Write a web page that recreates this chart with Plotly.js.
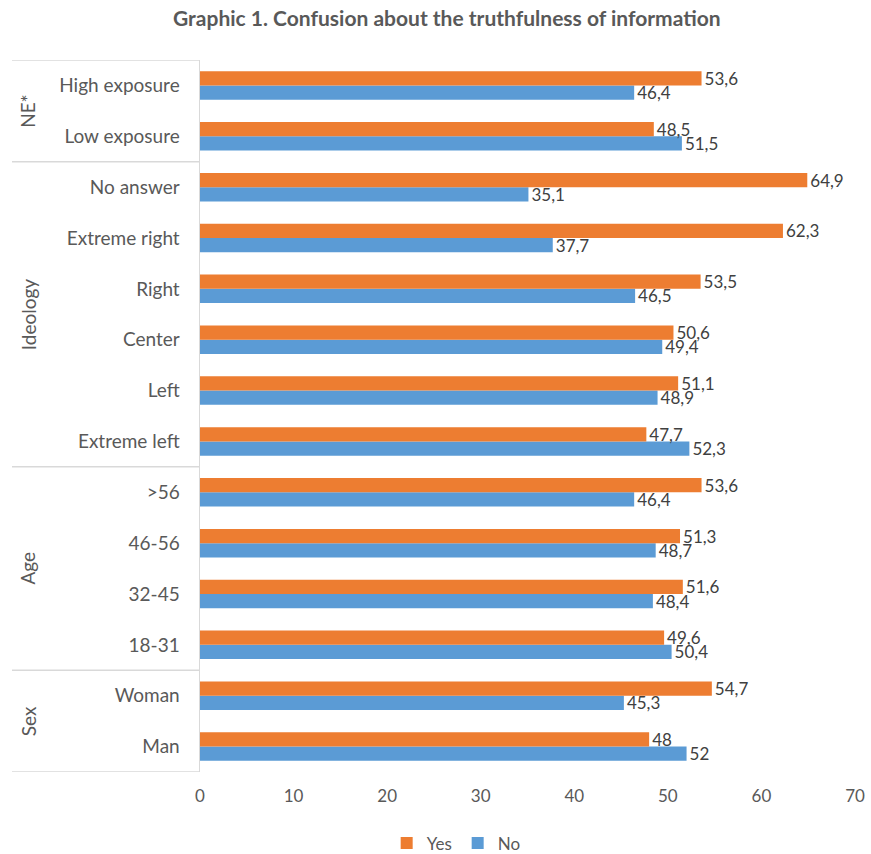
<!DOCTYPE html>
<html>
<head>
<meta charset="utf-8">
<script src="https://cdn.plot.ly/plotly-3.0.1.min.js"></script>
<style>html,body{margin:0;padding:0;background:#fff;}#chart{width:871px;height:854px;}</style>
</head>
<body>
<div id="chart"></div>
<script>
// Categories from bottom to top
var categories = ["Man", "Woman", "18-31", "32-45", "46-56", ">56", "Extreme left", "Left", "Center", "Right", "Extreme right", "No answer", "Low exposure", "High exposure"];
var yesValues = [48, 54.7, 49.6, 51.6, 51.3, 53.6, 47.7, 51.1, 50.6, 53.5, 62.3, 64.9, 48.5, 53.6];
var noValues  = [52, 45.3, 50.4, 48.4, 48.7, 46.4, 52.3, 48.9, 49.4, 46.5, 37.7, 35.1, 51.5, 46.4];
var groupNames = ["Sex", "Age", "Ideology", "NE*"];
var groupStarts = [0, 2, 6, 12];
var groupEnds = [1, 5, 11, 13];
var xTicks = [0, 10, 20, 30, 40, 50, 60, 70];

function fmt(v){ return String(v).replace('.', ','); }
var FONT = "Lato, 'Open Sans', sans-serif";

var traceNo = {
  type: 'bar', orientation: 'h', name: 'No',
  y: categories, x: noValues,
  text: noValues.map(fmt), textposition: 'outside', cliponaxis: false, constraintext: 'none',
  textfont: {family: FONT, size: 17, color: '#404040'},
  marker: {color: '#5B9BD5'}, legendrank: 2
};
var traceYes = {
  type: 'bar', orientation: 'h', name: 'Yes',
  y: categories, x: yesValues,
  text: yesValues.map(fmt), textposition: 'outside', cliponaxis: false, constraintext: 'none',
  textfont: {family: FONT, size: 17, color: '#404040'},
  marker: {color: '#ED7D31'}, legendrank: 1
};

var L = 200, R = 855, T = 60, B = 772;
function px2paper(px){ return (px - L) / (R - L); }

var shapes = [];
var bounds = [-0.5];
groupEnds.forEach(function(e){ bounds.push(e + 0.5); });
bounds.forEach(function(b){
  shapes.push({type:'line', xref:'paper', yref:'y', x0: px2paper(12), x1: 0, y0: b, y1: b,
    line:{color:'#d9d9d9', width:1.5}});
});

var annotations = groupNames.map(function(g, i){
  return {xref:'paper', yref:'y', x: px2paper(28), y: (groupStarts[i] + groupEnds[i]) / 2,
    text: g, showarrow:false, textangle:-90, xanchor:'center', yanchor:'middle',
    font:{family: FONT, size: 19, color:'#595959'}};
});

var layout = {
  width: 871, height: 854,
  margin: {l: L, r: 871 - R, t: T, b: 854 - B, autoexpand: false},
  paper_bgcolor: '#fff', plot_bgcolor: '#fff',
  title: {text: '<b>Graphic 1. Confusion about the truthfulness of information</b>',
    font: {family: FONT, size: 21, color: '#595959'}, x: 0.513, xanchor: 'center', y: 0.978, yanchor: 'middle'},
  barmode: 'group', bargap: 0.44, bargroupgap: 0,
  xaxis: {range: [0, 70], tickvals: xTicks, showgrid: false, zeroline: false, showline: false,
    tickfont: {family: FONT, size: 17, color: '#595959'}, ticks: '', ticklabelstandoff: 12, fixedrange: true},
  yaxis: {type: 'category', categoryorder: 'array', categoryarray: categories, range: [-0.5, 13.5],
    showgrid: false, zeroline: false, showline: true, linecolor: '#d9d9d9', linewidth: 1.5,
    ticks: '', ticklabelstandoff: 15, tickfont: {family: FONT, size: 19, color: '#595959'}, fixedrange: true},
  showlegend: true,
  legend: {orientation: 'h', x: 0.285, xanchor: 'left', y: -0.075, yanchor: 'top',
    font: {family: FONT, size: 17, color: '#595959'}, itemwidth: 30, entrywidth: 26, entrywidthmode: 'pixels', traceorder: 'normal'},
  shapes: shapes, annotations: annotations
};

Plotly.newPlot('chart', [traceNo, traceYes], layout, {displayModeBar: false, staticPlot: true});
</script>
</body>
</html>
